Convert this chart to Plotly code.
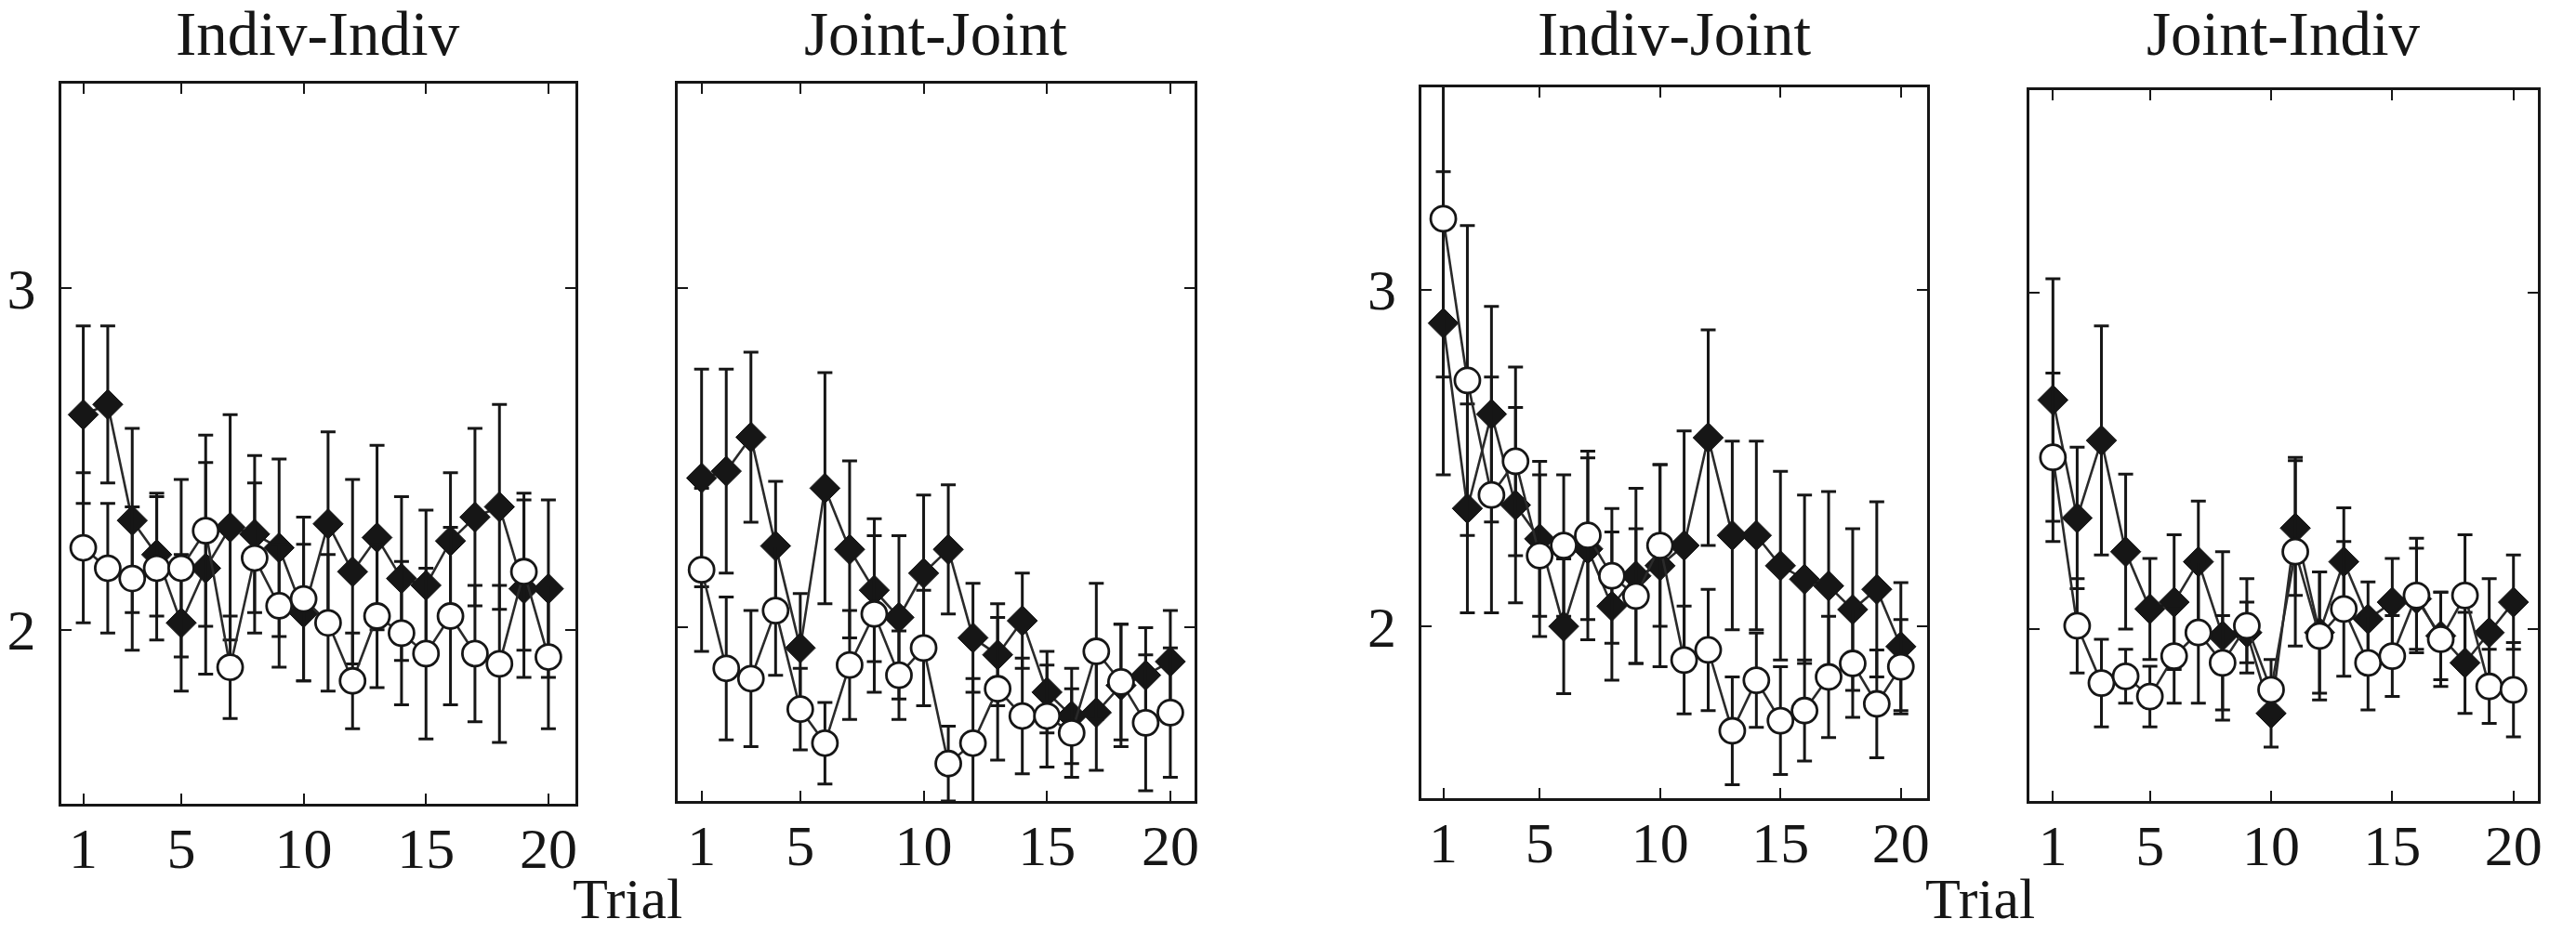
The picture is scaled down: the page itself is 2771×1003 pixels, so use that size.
import plotly.graph_objects as go

trials = list(range(1, 21))
panel_titles = ["Indiv-Indiv", "Joint-Joint", "Indiv-Joint", "Joint-Indiv"]
x_tick_vals = [1, 5, 10, 15, 20]
x_tick_text = ["1", "5", "10", "15", "20"]
y_tick_vals = [2, 3]
y_tick_text = ["2", "3"]
x_label = "Trial"

# Indiv-Indiv
ii_diamond = [2.63, 2.66, 2.32, 2.22, 2.02, 2.18, 2.30, 2.28, 2.24, 2.05,
              2.31, 2.17, 2.27, 2.15, 2.13, 2.26, 2.33, 2.36, 2.12, 2.12]
ii_diamond_err = [0.26, 0.23, 0.27, 0.18, 0.20, 0.31, 0.33, 0.23, 0.26, 0.20,
                  0.27, 0.27, 0.27, 0.24, 0.22, 0.20, 0.26, 0.30, 0.26, 0.26]
ii_circle = [2.24, 2.18, 2.15, 2.18, 2.18, 2.29, 1.89, 2.21, 2.07, 2.09,
             2.02, 1.85, 2.04, 1.99, 1.93, 2.04, 1.93, 1.90, 2.17, 1.92]
ii_circle_err = [0.22, 0.19, 0.21, 0.21, 0.26, 0.28, 0.15, 0.22, 0.18, 0.24,
                 0.20, 0.14, 0.21, 0.21, 0.25, 0.26, 0.20, 0.23, 0.23, 0.21]

# Joint-Joint
jj_diamond = [2.44, 2.46, 2.56, 2.24, 1.94, 2.41, 2.23, 2.11, 2.03, 2.16,
              2.23, 1.97, 1.92, 2.02, 1.81, 1.74, 1.75, 1.83, 1.86, 1.90]
jj_diamond_err = [0.32, 0.30, 0.25, 0.19, 0.16, 0.34, 0.26, 0.21, 0.24, 0.23,
                  0.19, 0.16, 0.15, 0.14, 0.12, 0.14, 0.17, 0.18, 0.14, 0.15]
jj_circle = [2.17, 1.88, 1.85, 2.05, 1.76, 1.66, 1.89, 2.04, 1.86, 1.94,
             1.60, 1.66, 1.82, 1.74, 1.74, 1.69, 1.93, 1.84, 1.72, 1.75]
jj_circle_err = [0.24, 0.21, 0.20, 0.19, 0.12, 0.12, 0.16, 0.23, 0.13, 0.17,
                 0.11, 0.19, 0.21, 0.17, 0.15, 0.13, 0.20, 0.17, 0.20, 0.19]

# Indiv-Joint
ij_diamond = [2.90, 2.35, 2.63, 2.36, 2.26, 2.00, 2.23, 2.06, 2.15, 2.18,
              2.24, 2.56, 2.27, 2.27, 2.18, 2.14, 2.12, 2.05, 2.11, 1.94]
ij_diamond_err = [0.45, 0.31, 0.32, 0.29, 0.23, 0.20, 0.27, 0.22, 0.26, 0.30,
                  0.34, 0.32, 0.28, 0.28, 0.28, 0.25, 0.28, 0.24, 0.26, 0.19]
ij_circle = [3.21, 2.73, 2.39, 2.49, 2.21, 2.24, 2.27, 2.15, 2.09, 2.24,
             1.90, 1.93, 1.69, 1.84, 1.72, 1.75, 1.85, 1.89, 1.77, 1.88]
ij_circle_err = [0.47, 0.46, 0.35, 0.28, 0.24, 0.21, 0.25, 0.20, 0.20, 0.24,
                 0.16, 0.18, 0.16, 0.14, 0.16, 0.15, 0.18, 0.16, 0.16, 0.14]

# Joint-Indiv
ji_diamond = [2.68, 2.33, 2.56, 2.23, 2.06, 2.08, 2.20, 1.98, 1.99, 1.75,
              2.30, 1.99, 2.20, 2.03, 2.08, 2.09, 1.98, 1.90, 1.99, 2.08]
ji_diamond_err = [0.36, 0.21, 0.34, 0.23, 0.15, 0.20, 0.18, 0.25, 0.09, 0.10,
                  0.20, 0.18, 0.16, 0.11, 0.13, 0.15, 0.13, 0.15, 0.16, 0.14]
ji_circle = [2.51, 2.01, 1.84, 1.86, 1.80, 1.92, 1.99, 1.90, 2.01, 1.82,
             2.23, 1.98, 2.06, 1.90, 1.92, 2.10, 1.97, 2.10, 1.83, 1.82]
ji_circle_err = [0.25, 0.14, 0.13, 0.08, 0.09, 0.14, 0.21, 0.14, 0.14, 0.09,
                 0.28, 0.19, 0.20, 0.14, 0.12, 0.17, 0.14, 0.18, 0.11, 0.14]

diamond_series = [ii_diamond, jj_diamond, ij_diamond, ji_diamond]
diamond_errs = [ii_diamond_err, jj_diamond_err, ij_diamond_err, ji_diamond_err]
circle_series = [ii_circle, jj_circle, ij_circle, ji_circle]
circle_errs = [ii_circle_err, jj_circle_err, ij_circle_err, ji_circle_err]

W, H = 2771, 1003
# panel frames in pixels (left, right, top, bottom)
frames = [(66, 620, 90, 865), (730, 1287, 90, 862), (1532, 2077, 94, 859), (2187, 2735, 97, 862)]
x_ranges = [[0.1, 21.1], [0.02, 20.97], [0.1, 21.1], [0.03, 21.01]]
y_range = [1.49, 3.6]

INK = "#161616"
FONT = "Liberation Serif"

fig = go.Figure()
for i in range(4):
    xa = "x" if i == 0 else f"x{i+1}"
    ya = "y" if i == 0 else f"y{i+1}"
    fig.add_trace(go.Scatter(
        x=trials, y=diamond_series[i], xaxis=xa, yaxis=ya, mode="lines+markers",
        line=dict(color="#2a2a2a", width=2.6),
        marker=dict(symbol="diamond", size=25, color=INK, line=dict(color=INK, width=1)),
        error_y=dict(type="data", array=diamond_errs[i], visible=True,
                     color=INK, thickness=3, width=8),
        showlegend=False, cliponaxis=True))
    fig.add_trace(go.Scatter(
        x=trials, y=circle_series[i], xaxis=xa, yaxis=ya, mode="lines+markers",
        line=dict(color="#2a2a2a", width=2.6),
        marker=dict(symbol="circle", size=27, color="white", line=dict(color=INK, width=2.8)),
        error_y=dict(type="data", array=circle_errs[i], visible=True,
                     color=INK, thickness=3, width=8),
        showlegend=False, cliponaxis=True))

layout = dict(
    width=W, height=H, margin=dict(l=0, r=0, t=0, b=0),
    paper_bgcolor="white", plot_bgcolor="white",
    font=dict(family=FONT, color=INK, size=60),
    annotations=[],
)
for i in range(4):
    l, r, t, b = frames[i]
    xkey = "xaxis" if i == 0 else f"xaxis{i+1}"
    ykey = "yaxis" if i == 0 else f"yaxis{i+1}"
    ya = "y" if i == 0 else f"y{i+1}"
    xa = "x" if i == 0 else f"x{i+1}"
    layout[xkey] = dict(
        domain=[l / W, r / W], range=x_ranges[i], anchor=ya,
        tickvals=x_tick_vals, ticktext=x_tick_text,
        ticks="inside", ticklen=11, tickwidth=2.2, tickcolor=INK,
        showline=True, linecolor=INK, linewidth=2.8, mirror="ticks",
        showgrid=False, zeroline=False, ticklabelstandoff=-8,
        tickfont=dict(family=FONT, size=62, color=INK))
    layout[ykey] = dict(
        domain=[1 - b / H, 1 - t / H], range=y_range, anchor=xa,
        tickvals=y_tick_vals, ticktext=y_tick_text,
        ticks="inside", ticklen=11, tickwidth=2.2, tickcolor=INK,
        showline=True, linecolor=INK, linewidth=2.8, mirror="ticks",
        showgrid=False, zeroline=False, showticklabels=(i in (0, 2)),
        ticklabelstandoff=12,
        tickfont=dict(family=FONT, size=62, color=INK))
    layout["annotations"].append(dict(
        text=panel_titles[i], x=(l + r) / 2 / W, y=1 - 36 / H,
        xref="paper", yref="paper", xanchor="center", yanchor="middle",
        showarrow=False, font=dict(family=FONT, size=67, color=INK)))

for cx in [(66 + 1287) / 2, (1532 + 2735) / 2]:
    layout["annotations"].append(dict(
        text=x_label, x=cx / W, y=0.0,
        xref="paper", yref="paper", xanchor="center", yanchor="bottom",
        showarrow=False, font=dict(family=FONT, size=62, color=INK)))

fig.update_layout(**layout)
fig.write_html("out.html")
